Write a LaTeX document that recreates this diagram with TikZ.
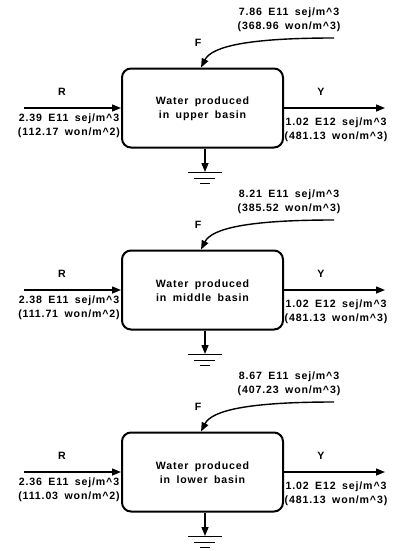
\documentclass[tikz,border=0pt]{standalone}
\usepackage{fontspec}
\setmainfont{Liberation Sans}[LetterSpace=8,WordSpace=1.7]
\usetikzlibrary{arrows.meta}
\begin{document}
\begin{tikzpicture}[x=1pt,y=-1pt,
  font=\fontsize{10.6}{14}\selectfont\bfseries,
  basinbox/.style={draw,line width=2pt,rounded corners=9pt,minimum width=161pt,minimum height=79pt,inner sep=0pt},
  flow/.style={line width=1.4pt,-{Triangle[length=9pt,width=7pt]}},
  lbl/.style={inner sep=0pt,align=center},
  gnd/.style={line width=1.2pt}]
\useasboundingbox (0,0) rectangle (394,551);
\foreach \i/\d/\name/\fa/\fb/\ra/\rb in {1/0/upper/7.86/368.96/2.39/112.17, 2/182/middle/8.21/385.52/2.38/111.71, 3/364/lower/8.67/407.23/2.36/111.03}{
\begin{scope}[shift={(0,\d)}]
  \node[basinbox] (box\i) at (202.5,108) {};
  \node[lbl] (txt\i) at (202.5,109) {Water produced\\in \name\ basin};
  \coordinate (rin\i) at (24,108);
  \coordinate (yout\i) at (385,108);
  \coordinate (fin\i) at (334,38);
  \coordinate (gtop\i) at (205,172);
  \draw[flow] (rin\i) -- (box\i.west |- rin\i);
  \draw[flow] (box\i.east |- yout\i) -- (yout\i);
  \draw[flow] (fin\i) .. controls (250,38) and (212,46) .. (box\i.north -| 201,0);
  \draw[flow] (box\i.south -| gtop\i) -- (gtop\i);
  \draw[gnd] (188,172.5) -- (222,172.5);
  \draw[gnd] (194,178.5) -- (215,178.5);
  \draw[gnd] (200,183.5) -- (210,183.5);
  \node[lbl] (rl\i) at (62,92) {R};
  \node[lbl] (yl\i) at (321,92) {Y};
  \node[lbl] (fl\i) at (198,43) {F};
  \node[lbl] (rt\i) at (69,126) {\ra\ E11 sej/m\textasciicircum 3\\(\rb\ won/m\textasciicircum 2)};
  \node[lbl] (yt\i) at (336,130) {1.02 E12 sej/m\textasciicircum 3\\(481.13 won/m\textasciicircum 3)};
  \node[lbl] (ft\i) at (289,19.5) {\fa\ E11 sej/m\textasciicircum 3\\(\fb\ won/m\textasciicircum 3)};
\end{scope}
}
\end{tikzpicture}
\end{document}
